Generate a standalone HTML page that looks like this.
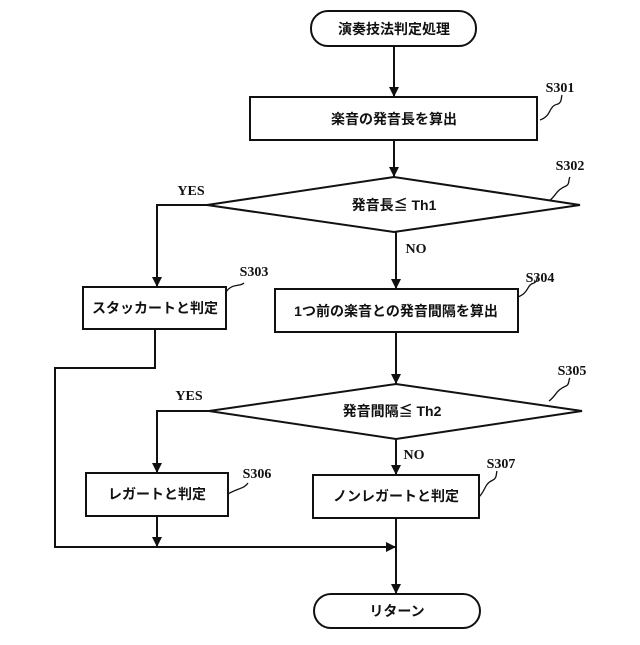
<!DOCTYPE html>
<html><head><meta charset="utf-8"><style>
body{margin:0;background:#fff}
svg text{font-family:"Liberation Serif","Noto Sans CJK JP",serif;font-weight:bold;fill:#111}
.j{font-family:"Liberation Sans","Noto Sans CJK JP",sans-serif;font-size:14px}
.s{font-size:14px}
</style></head><body>
<svg width="640" height="640" viewBox="0 0 640 640" xmlns="http://www.w3.org/2000/svg">
<defs><marker id="a" viewBox="0 0 10 10" refX="10" refY="5" markerWidth="9" markerHeight="9" markerUnits="userSpaceOnUse" orient="auto"><path d="M0,0L10,5L0,10z" fill="#111"/></marker>
<marker id="b" viewBox="0 0 10 10" refX="10" refY="5" markerWidth="12" markerHeight="10" markerUnits="userSpaceOnUse" orient="auto"><path d="M0,0L10,5L0,10z" fill="#111"/></marker></defs>
<g fill="none" stroke="#111" stroke-width="2">
<rect x="311" y="11" width="165" height="35" rx="17"/>
<rect x="250" y="97" width="287" height="43"/>
<polygon points="207,205 394,177 580,205 394,232"/>
<rect x="83" y="287" width="143" height="42"/>
<rect x="275" y="289" width="243" height="43"/>
<polygon points="209,411 396,384 582,411 396,439"/>
<rect x="86" y="473" width="142" height="43"/>
<rect x="313" y="475" width="166" height="43"/>
<rect x="314" y="594" width="166" height="34" rx="17"/>
<line x1="394" y1="46" x2="394" y2="97" marker-end="url(#b)"/>
<line x1="394" y1="140" x2="394" y2="177" marker-end="url(#b)"/>
<polyline points="207,205 157,205 157,287" marker-end="url(#b)"/>
<line x1="396" y1="232" x2="396" y2="289" marker-end="url(#b)"/>
<line x1="396" y1="332" x2="396" y2="384" marker-end="url(#b)"/>
<polyline points="209,411 157,411 157,473" marker-end="url(#b)"/>
<line x1="396" y1="439" x2="396" y2="475" marker-end="url(#b)"/>
<polyline points="155,329 155,368 55,368 55,547 396,547" marker-end="url(#b)"/>
<line x1="157" y1="516" x2="157" y2="547" marker-end="url(#b)"/>
<line x1="396" y1="518" x2="396" y2="594" marker-end="url(#b)"/>
<g stroke-width="1.3">
<path d="M540,120 C552,116 548,106 558,104 C562,102 561,98 562,95"/>
<path d="M549,201 C556,196 556,190 566,186 C570,184 568,180 570,177"/>
<path d="M226,292 C232,283 240,287 244,283"/>
<path d="M518,297 C530,292 526,285 534,283 C538,281 536,278 538,277"/>
<path d="M549,401 C556,396 556,390 566,386 C570,384 568,380 570,378"/>
<path d="M228,494 C238,488 244,489 248,483"/>
<path d="M479,497 C486,490 484,484 493,480 C497,478 496,474 497,471"/>
</g></g>
<g text-anchor="middle">
<text class="j" x="394" y="34">演奏技法判定処理</text>
<text class="j" x="394" y="124">楽音の発音長を算出</text>
<text class="j" x="394" y="210">発音長≦ Th1</text>
<text class="j" x="155" y="313">スタッカートと判定</text>
<text class="j" x="396" y="316">1つ前の楽音との発音間隔を算出</text>
<text class="j" x="392" y="416">発音間隔≦ Th2</text>
<text class="j" x="157" y="499">レガートと判定</text>
<text class="j" x="396" y="501">ノンレガートと判定</text>
<text class="j" x="397" y="616">リターン</text>
<text class="s" x="560" y="92">S301</text>
<text class="s" x="570" y="170">S302</text>
<text class="s" x="254" y="276">S303</text>
<text class="s" x="540" y="282">S304</text>
<text class="s" x="572" y="375">S305</text>
<text class="s" x="257" y="478">S306</text>
<text class="s" x="501" y="468">S307</text>
<text class="s" x="191" y="195">YES</text>
<text class="s" x="189" y="400">YES</text>
<text class="s" x="416" y="253">NO</text>
<text class="s" x="414" y="459">NO</text>
</g>
</svg>
</body></html>
